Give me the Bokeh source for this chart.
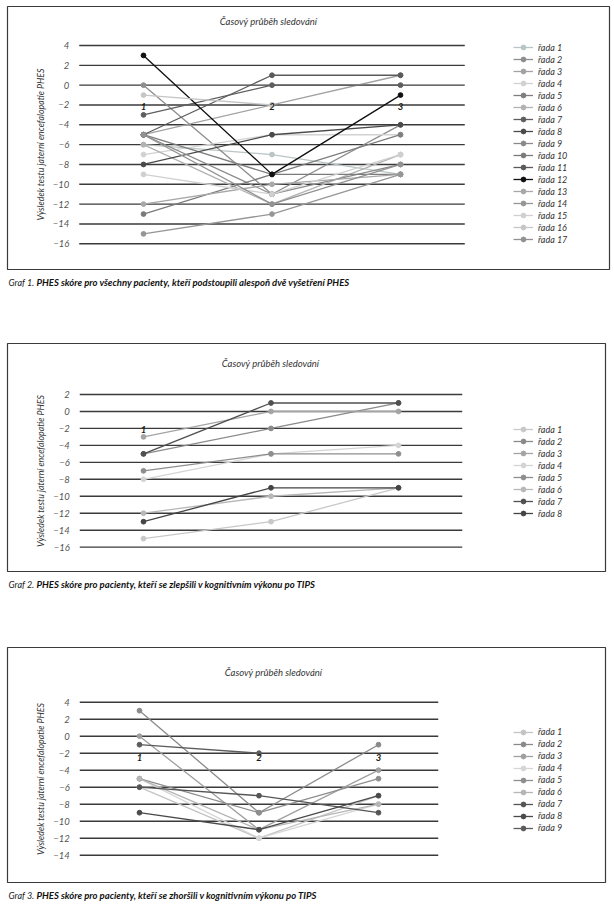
from bokeh.plotting import figure
from bokeh.models import (Range1d, LinearAxis, FixedTicker, Legend, LegendItem,
                          Label, ColumnDataSource)
from bokeh.embed import file_html
from bokeh.resources import INLINE

NaN = float("nan")

# ---------------- data ----------------
STEPS = [1, 2, 3]

# Graf 1 - all patients (values at time points 1, 2, 3)
G1_T1 = [-6, 0, -5, -7, -5, -6, -3, -8, -5, -13, -5, 3, -12, -15, -9, -1, -5]
G1_T2 = [-7, -11, -2, -5, -9, -12, 0, -5, -11, -9, 1, -9, -10, -13, -11, -2, -12]
G1_T3 = [-9, -4, 1, -5, -5, -7, 0, -4, -8, -9, 1, -1, -9, -9, -7, NaN, -8]
G1_COLORS = ["#b9c5c5", "#8e8e8e", "#a2a2a2", "#d2d2d2", "#7e7e7e", "#b2b2b2",
             "#5e5e5e", "#4a4a4a", "#8a8a8a", "#7a7a7a", "#5a5a5a", "#101010",
             "#a8a8a8", "#969696", "#d0d0d0", "#c6c6c6", "#929292"]
G1_YTICKS = [4, 2, 0, -2, -4, -6, -8, -10, -12, -14, -16]
G1_STEP_LABELS = [1, 2, 3]

# Graf 2 - improved patients
G2_T1 = [-15, -5, -3, -8, -7, -12, -5, -13]
G2_T2 = [-13, -2, 0, -5, -5, -10, 1, -9]
G2_T3 = [-9, 1, 0, -4, -5, -9, 1, -9]
G2_COLORS = ["#c8c8c8", "#8a8a8a", "#a4a4a4", "#d4d4d4", "#8e8e8e", "#b8b8b8",
             "#505050", "#444444"]
G2_YTICKS = [2, 0, -2, -4, -6, -8, -10, -12, -14, -16]
G2_STEP_LABELS = [1]

# Graf 3 - worsened patients
G3_T1 = [-6, 3, 0, -5, -5, -5, -6, -9, -1]
G3_T2 = [-12, -9, -11, -12, -9, -11, -7, -11, -2]
G3_T3 = [-7, -1, -4, -8, -5, -8, -9, -7, NaN]
G3_COLORS = ["#c4c4c4", "#8a8a8a", "#a0a0a0", "#d6d6d6", "#8e8e8e", "#b6b6b6",
             "#555555", "#4a4a4a", "#5c5c5c"]
G3_YTICKS = [4, 2, 0, -2, -4, -6, -8, -10, -12, -14]
G3_STEP_LABELS = [1, 2, 3]

TITLE = "Časový průběh sledování"
YLABEL = "Výsledek testu jaterní encefalopatie PHES"
CAP_PREFIX = ["Graf 1.", "Graf 2.", "Graf 3."]
CAP_TEXT = [
    "PHES skóre pro všechny pacienty, kteří podstoupili alespoň dvě vyšetření PHES",
    "PHES skóre pro pacienty, kteří se zlepšili v kognitivním výkonu po TIPS",
    "PHES skóre pro pacienty, kteří se zhoršili v kognitivním výkonu po TIPS",
]

# ---------------- layout (pixels) ----------------
W, H = 614, 904
FONT = "Lato"
PANELS = [
    dict(t1=G1_T1, t2=G1_T2, t3=G1_T3, colors=G1_COLORS, ticks=G1_YTICKS,
         steps=G1_STEP_LABELS, box=(7, 609, 6, 269), x1px=143, dx=128.5,
         vtop=4, ytop=45.0, k=9.915, title=(268, 20.5), legend_top=41.3, cap_y=282,
         step_standoff=12),
    dict(t1=G2_T1, t2=G2_T2, t3=G2_T3, colors=G2_COLORS, ticks=G2_YTICKS,
         steps=G2_STEP_LABELS, box=(7, 605, 343, 571), x1px=143, dx=127.5,
         vtop=2, ytop=394.0, k=8.48, title=(270, 363), legend_top=423.0, cap_y=584,
         step_standoff=9),
    dict(t1=G3_T1, t2=G3_T2, t3=G3_T3, colors=G3_COLORS, ticks=G3_YTICKS,
         steps=G3_STEP_LABELS, box=(7, 605, 647, 882), x1px=139, dx=119.5,
         vtop=4, ytop=701.7, k=8.5, title=(273, 671.5), legend_top=725.6, cap_y=895,
         step_standoff=12),
]

p = figure(width=W, height=H, x_range=Range1d(0, W), y_range=Range1d(H, 0),
           output_backend="svg", toolbar_location=None,
           x_axis_location=None, y_axis_location=None,
           min_border=0, outline_line_color=None)
p.grid.visible = False
p.background_fill_color = "white"
p.border_fill_color = "white"

for idx, P in enumerate(PANELS):
    xn, yn = f"x{idx}", f"y{idx}"
    p.extra_x_ranges[xn] = Range1d(1 - P["x1px"] / P["dx"], 1 + (W - P["x1px"]) / P["dx"])
    p.extra_y_ranges[yn] = Range1d(P["vtop"] - (H - P["ytop"]) / P["k"],
                                   P["vtop"] + P["ytop"] / P["k"])

    # panel frame
    l, r, t, b = P["box"]
    p.quad(left=[l], right=[r], top=[t], bottom=[b], fill_color=None,
           line_color="#3a3a3a", line_width=1.2)

    # horizontal gridlines
    ticks = P["ticks"]
    gsrc = ColumnDataSource(dict(y=ticks, x0=[0.5] * len(ticks), x1=[3.5] * len(ticks)))
    p.segment(x0="x0", x1="x1", y0="y", y1="y", source=gsrc, line_color="#3a3a3a",
              line_width=1.4, x_range_name=xn, y_range_name=yn)

    # value axis
    yax = LinearAxis(x_range_name=xn, y_range_name=yn, fixed_location=0.5,
                     ticker=FixedTicker(ticks=ticks), bounds=(min(ticks), max(ticks)),
                     axis_label=YLABEL)
    yax.major_label_overrides = {t: str(t).replace("-", "−") for t in ticks}
    yax.axis_line_color = None
    yax.major_tick_line_color = None
    yax.minor_tick_line_color = None
    yax.major_label_standoff = 4
    yax.major_label_text_font = FONT
    yax.major_label_text_font_style = "italic"
    yax.major_label_text_font_size = "9.5px"
    yax.major_label_text_color = "#555555"
    yax.axis_label_standoff = 4
    yax.axis_label_text_font = FONT
    yax.axis_label_text_font_style = "italic"
    yax.axis_label_text_font_size = "8.8px"
    yax.axis_label_text_color = "#333333"
    p.add_layout(yax, "left")

    # category (time point) axis crossing at 0
    xax = LinearAxis(x_range_name=xn, y_range_name=yn, fixed_location=0,
                     ticker=FixedTicker(ticks=P["steps"]))
    xax.axis_line_color = None
    xax.major_tick_line_color = None
    xax.minor_tick_line_color = None
    xax.major_label_standoff = P["step_standoff"]
    xax.major_label_text_font = FONT
    xax.major_label_text_font_style = "bold italic"
    xax.major_label_text_font_size = "9.5px"
    xax.major_label_text_color = "#1a1a1a"
    p.add_layout(xax, "below")

    # series
    items = []
    n = len(P["t1"])
    for i in range(n):
        ys = [P["t1"][i], P["t2"][i], P["t3"][i]]
        c = P["colors"][i]
        lr = p.line(x=STEPS, y=ys, line_color=c, line_width=1.3,
                    x_range_name=xn, y_range_name=yn)
        sr = p.scatter(x=STEPS, y=ys, size=4.8, marker="circle", fill_color=c,
                       line_color=c, x_range_name=xn, y_range_name=yn)
        items.append(LegendItem(label=f"řada {i + 1}", renderers=[lr, sr]))

    leg_h = 12 * n
    legend = Legend(items=items, location=(513, H - (P["legend_top"] + leg_h)),
                    orientation="vertical", glyph_width=20, glyph_height=12,
                    label_height=12, spacing=0, padding=0, margin=0,
                    label_standoff=5, border_line_color=None,
                    background_fill_alpha=0)
    legend.label_text_font = FONT
    legend.label_text_font_style = "italic"
    legend.label_text_font_size = "9px"
    legend.label_text_color = "#333333"
    p.add_layout(legend)

    # panel title
    tx, ty = P["title"]
    p.add_layout(Label(x=tx, y=ty, text=TITLE, text_align="center",
                       text_baseline="middle", text_font=FONT,
                       text_font_style="italic", text_font_size="9.5px",
                       text_color="#333333"))

    # caption
    p.add_layout(Label(x=8, y=P["cap_y"], text=CAP_PREFIX[idx], text_align="left",
                       text_baseline="middle", text_font=FONT,
                       text_font_style="italic", text_font_size="9px",
                       text_color="#222222"))
    p.add_layout(Label(x=36, y=P["cap_y"], text=CAP_TEXT[idx], text_align="left",
                       text_baseline="middle", text_font=FONT,
                       text_font_style="bold italic", text_font_size="9.5px",
                       text_color="#111111"))

open("out.html", "w").write(file_html(p, INLINE))
